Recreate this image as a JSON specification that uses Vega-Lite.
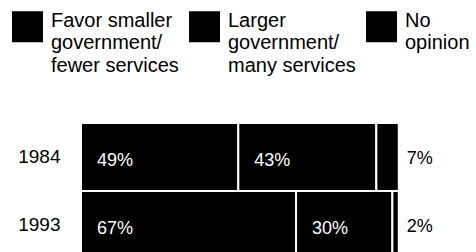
{
  "$schema": "https://vega.github.io/schema/vega-lite/v6.json",
  "autosize": {"type": "none"},
  "padding": {"left": 81, "top": 123, "right": 0, "bottom": 0},
  "width": 395,
  "height": 129,
  "background": "white",
  "config": {
    "view": {"stroke": null},
    "font": "Liberation Sans",
    "style": {"guide-label": {"lineHeight": 22.5}}
  },
  "data": {
    "values": [
      {"year": "1984", "opinion": "Favor smaller government/fewer services", "order": 1, "pct": 49},
      {"year": "1984", "opinion": "Larger government/many services", "order": 2, "pct": 43},
      {"year": "1984", "opinion": "No opinion", "order": 3, "pct": 7},
      {"year": "1993", "opinion": "Favor smaller government/fewer services", "order": 1, "pct": 67},
      {"year": "1993", "opinion": "Larger government/many services", "order": 2, "pct": 30},
      {"year": "1993", "opinion": "No opinion", "order": 3, "pct": 2}
    ]
  },
  "transform": [
    {"stack": "pct", "groupby": ["year"], "sort": [{"field": "order"}], "as": ["x0", "x1"]},
    {"calculate": "datum.pct + '%'", "as": "label"}
  ],
  "layer": [
    {
      "mark": {"type": "bar", "stroke": "white", "strokeWidth": 2},
      "encoding": {
        "x": {"field": "x0", "type": "quantitative", "scale": {"domain": [0, 99], "range": [0, 321]}, "axis": null},
        "x2": {"field": "x1"},
        "y": {
          "field": "year", "type": "nominal",
          "scale": {"range": [0, 136], "paddingInner": 0, "paddingOuter": 0},
          "axis": {"title": null, "domain": false, "ticks": false, "tickSize": 0, "labelFontSize": 19, "labelColor": "black", "labelPadding": 21, "labelBaseline": "alphabetic", "labelOffset": 6, "labelFont": "Liberation Sans"}
        },
        "color": {
          "field": "opinion", "type": "nominal",
          "scale": {"domain": ["Favor smaller government/fewer services", "Larger government/many services", "No opinion"], "range": ["black", "black", "black"]},
          "legend": {
            "orient": "none", "legendX": -69, "legendY": -112, "direction": "horizontal", "title": null,
            "symbolType": "square", "symbolSize": 961, "symbolStrokeWidth": 0, "symbolOpacity": 1,
            "labelFontSize": 20, "labelFont": "Liberation Sans", "labelColor": "black", "labelOffset": 8,
            "labelBaseline": "alphabetic",
            "columnPadding": 10, "labelLimit": 300,
            "labelExpr": "datum.label == 'No opinion' ? ['No', 'opinion', ''] : datum.label == 'Larger government/many services' ? ['Larger', 'government/', 'many services'] : ['Favor smaller', 'government/', 'fewer services']"
          }
        }
      }
    },
    {
      "transform": [{"filter": "datum.order < 3"}],
      "mark": {"type": "text", "align": "left", "baseline": "alphabetic", "dx": 16, "dy": 9, "color": "white", "fontSize": 18, "font": "Liberation Sans"},
      "encoding": {
        "x": {"field": "x0", "type": "quantitative"},
        "y": {"field": "year", "type": "nominal"},
        "text": {"field": "label"}
      }
    },
    {
      "transform": [{"filter": "datum.order == 3"}],
      "mark": {"type": "text", "align": "left", "baseline": "alphabetic", "dx": 8, "dy": 7, "color": "black", "fontSize": 18, "font": "Liberation Sans"},
      "encoding": {
        "x": {"field": "x1", "type": "quantitative"},
        "y": {"field": "year", "type": "nominal"},
        "text": {"field": "label"}
      }
    }
  ]
}
